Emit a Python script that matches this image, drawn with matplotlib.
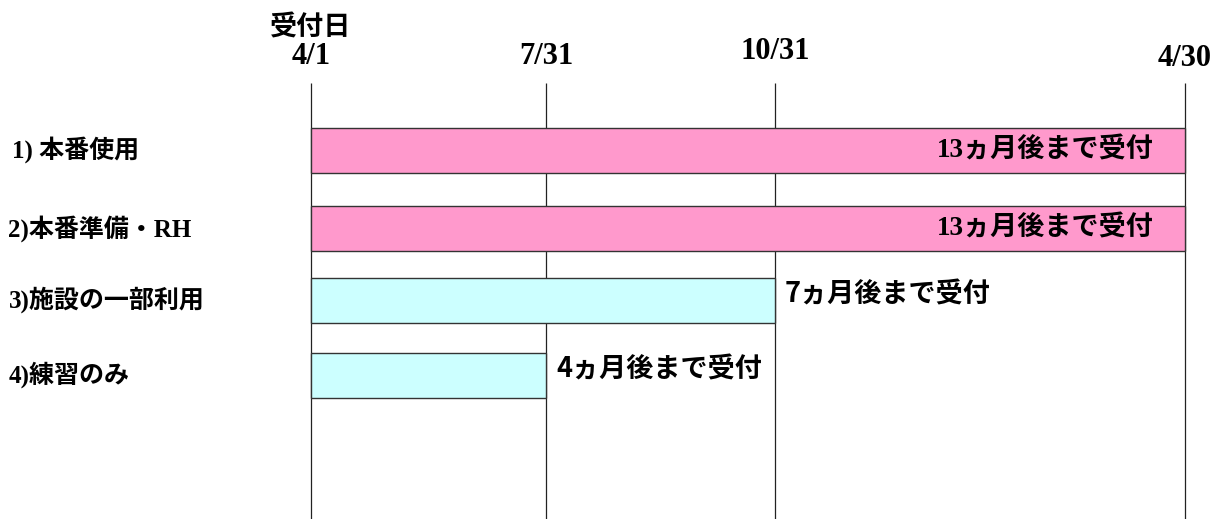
import matplotlib.pyplot as plt
from matplotlib.patches import Rectangle

# milestones (x in approx. month units from 4/1)
milestone_labels = ['4/1', '7/31', '10/31', '4/30']
milestone_x = [0.0, 3.5, 6.9, 13.0]

# rows
categories = ['1) 本番使用', '2)本番準備・RH', '3)施設の一部利用', '4)練習のみ']
bar_end = [13.0, 13.0, 6.9, 3.5]
bar_colors = ['#FF99CC', '#FF99CC', '#CCFFFF', '#CCFFFF']
bar_notes = ['13ヵ月後まで受付', '13ヵ月後まで受付', '7ヵ月後まで受付', '4ヵ月後まで受付']

W, H = 1217, 519
fig = plt.figure(figsize=(W / 100, H / 100), dpi=100)
ax = fig.add_axes([0, 0, 1, 1])

# pixel -> data mapping: x=0 at px 311, x=13 at px 1185; rows 75 px apart, row 0 at px 150
px_per_x = (1185 - 311) / 13.0
ax.set_xlim(-311 / px_per_x, (W - 311) / px_per_x)
ax.set_ylim((H - 150) / 75, -150 / 75)
ax.axis('off')

serif_jp = ['Liberation Serif', 'Noto Sans CJK JP']
sans_jp = ['Noto Sans CJK JP', 'DejaVu Sans']

# vertical milestone lines
ax.vlines(milestone_x, -0.9, (H - 150) / 75, colors='#222222', linewidth=0.9, zorder=1)

# milestone labels
label_dy = [0.0, 0.0, -0.07, 0.02]
for x, lab, dy in zip(milestone_x, milestone_labels, label_dy):
    ax.text(x, -1.24 + dy, lab, ha='center', va='center', fontsize=22,
            fontweight='bold', family=serif_jp)
ax.text(milestone_x[0], -1.62, '受付日', ha='center', va='center', fontsize=19.5,
        fontweight='bold', family=serif_jp)

bar_h = 0.6
row_y = [0.0, 1.05, 2.0, 3.0]
for i, (cat, end, col, note) in enumerate(zip(categories, bar_end, bar_colors, bar_notes)):
    y = row_y[i]
    ax.add_patch(Rectangle((milestone_x[0], y - bar_h / 2), end - milestone_x[0], bar_h,
                           facecolor=col, edgecolor='#333333', linewidth=1.0, zorder=2))
    ax.text(-4.5 if i else -4.44, y, cat, ha='left', va='center', fontsize=18,
            fontweight='bold', family=serif_jp)
    if end >= milestone_x[-1]:
        ax.text(end - 0.47, y, note, ha='right', va='center', fontsize=19.5,
                fontweight='bold', family=serif_jp, zorder=3)
    else:
        ax.text(end + 0.15, y - 0.08, note, ha='left', va='center', fontsize=19.5,
                fontweight='bold', family=sans_jp, zorder=3)

fig.savefig('out.png', dpi=100)
